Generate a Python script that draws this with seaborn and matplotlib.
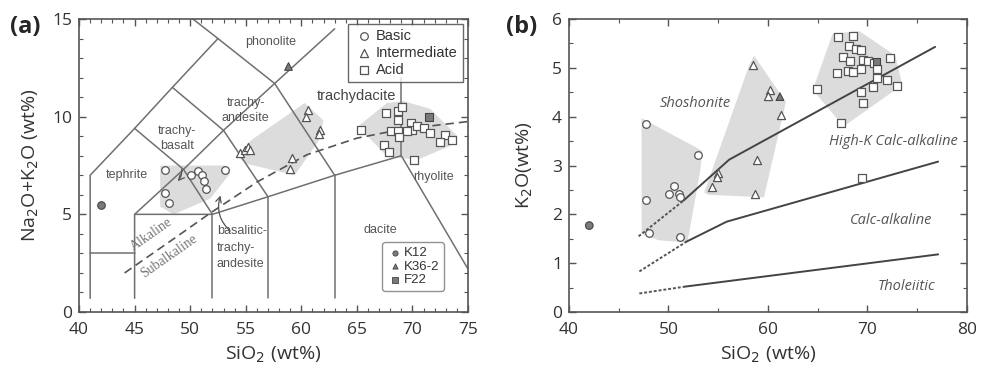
import pandas as pd
import seaborn as sns
import matplotlib.pyplot as plt
from matplotlib.ticker import MultipleLocator

# (a) TAS diagram - sample points
basic_sio2 = [47.75, 50.1, 50.7, 51.1, 51.2, 51.4, 53.15, 47.7, 48.1]
basic_alk = [7.28, 7.0, 7.2, 7.0, 6.7, 6.3, 7.25, 6.1, 5.6]
inter_sio2 = [54.5, 54.9, 55.2, 55.4, 59.2, 59.0, 60.6, 60.45, 61.65, 61.6]
inter_alk = [8.15, 8.3, 8.45, 8.3, 7.9, 7.3, 10.35, 10.0, 9.3, 9.1]
acid_sio2 = [67.6, 68.7, 69.1, 68.7, 65.4, 68.1, 68.7, 68.8, 69.9, 70.0, 70.4, 71.0,
             71.6, 72.9, 73.6, 72.5, 67.4, 67.9, 70.1, 69.5]
acid_alk = [10.2, 10.3, 10.5, 9.85, 9.3, 9.25, 9.25, 8.95, 9.7, 9.3, 9.5, 9.4,
            9.15, 9.05, 8.8, 8.7, 8.55, 8.2, 7.8, 9.25]
k12_a = (42.0, 5.5)
k36_a = (58.8, 12.6)
f22_a = (71.5, 10.0)

# shaded fields (a)
basic_poly_a = [(47.3, 7.5), (53.2, 7.5), (53.6, 7.1), (51.8, 5.8), (48.5, 5.0), (47.3, 5.4)]
inter_poly_a = [(54.2, 8.0), (55.5, 8.8), (60.3, 10.7), (62.0, 9.8), (61.6, 8.8), (59.4, 7.0), (55.0, 7.6)]
acid_poly_a = [(65.1, 9.5), (67.7, 10.7), (69.2, 10.8), (71.6, 10.4), (74.05, 9.0),
               (73.4, 8.5), (70.45, 7.8), (67.75, 7.95)]

# TAS boundaries
tas_lines = [
    [(41, 0.7), (41, 7), (45, 9.4), (48.4, 11.5), (52.5, 14), (50.25, 15)],
    [(41, 3), (45, 3)],
    [(45, 0.7), (45, 5), (52, 5), (57, 5.9), (63, 7), (69, 8), (75, 2.2)],
    [(52, 0.7), (52, 5)],
    [(57, 0.7), (57, 5.9)],
    [(63, 0.7), (63, 7)],
    [(45, 5), (49.4, 7.3), (53, 9.3), (57.6, 11.7), (63, 14.5)],
    [(45, 9.4), (49.4, 7.3), (52, 5)],
    [(48.4, 11.5), (53, 9.3), (57, 5.9)],
    [(52.5, 14), (57.6, 11.7), (63, 7)],
    [(69, 8), (69, 12)],
]
alk_sio2 = [44.1, 48.8, 51.8, 56.0, 60.5, 65.0, 69.0, 75.0]
alk_alk = [2.0, 3.86, 5.06, 6.65, 8.05, 8.9, 9.35, 9.75]

# (b) K2O vs SiO2
basic_b_sio2 = [47.74, 52.93, 50.58, 50.05, 51.06, 51.16, 47.74, 48.04, 51.2]
basic_b_k2o = [3.86, 3.21, 2.58, 2.42, 2.41, 2.35, 2.29, 1.62, 1.54]
inter_b_sio2 = [58.52, 60.2, 60.03, 61.27, 58.86, 54.94, 54.84, 54.4, 58.69]
inter_b_k2o = [5.06, 4.55, 4.42, 4.03, 3.11, 2.85, 2.77, 2.57, 2.42]
acid_b_sio2 = [67.07, 68.58, 68.17, 68.84, 69.35, 67.57, 68.24, 69.58, 70.08, 70.65, 72.26,
               66.9, 68.07, 68.58, 69.35, 70.92, 70.92, 71.93, 72.93, 64.89, 70.52, 69.35,
               69.58, 67.3, 69.48]
acid_b_k2o = [5.63, 5.66, 5.45, 5.38, 5.37, 5.22, 5.13, 5.16, 5.13, 5.1, 5.21,
              4.9, 4.94, 4.92, 4.97, 4.97, 4.79, 4.75, 4.63, 4.56, 4.6, 4.51,
              4.27, 3.88, 2.74]
k12_b = (42.04, 1.77)
k36_b = (61.2, 4.41)
f22_b = (70.92, 5.13)

basic_poly_b = [(47.3, 3.97), (53.4, 3.3), (53.2, 2.9), (51.9, 1.42), (49.0, 1.47), (47.3, 1.6)]
inter_poly_b = [(53.6, 2.45), (58.1, 5.05), (58.6, 5.25), (61.8, 4.3), (59.6, 2.35), (54.0, 2.4)]
acid_poly_b = [(64.5, 4.55), (66.5, 5.7), (69.2, 5.75), (72.8, 5.25), (73.5, 4.65), (67.6, 3.8)]

sho_dot = [(47.0, 1.55), (51.5, 2.28)]
sho_line = [(51.5, 2.28), (56.1, 3.12), (76.8, 5.43)]
hk_dot = [(47.07, 0.83), (51.8, 1.44)]
hk_line = [(51.8, 1.44), (55.85, 1.85), (77.1, 3.08)]
th_dot = [(47.07, 0.38), (51.66, 0.52)]
th_line = [(51.66, 0.52), (77.1, 1.18)]

df_a = pd.DataFrame({
    "SiO2": basic_sio2 + inter_sio2 + acid_sio2,
    "alk": basic_alk + inter_alk + acid_alk,
    "group": ["Basic"] * len(basic_sio2) + ["Intermediate"] * len(inter_sio2) + ["Acid"] * len(acid_sio2),
})
df_b = pd.DataFrame({
    "SiO2": basic_b_sio2 + inter_b_sio2 + acid_b_sio2,
    "K2O": basic_b_k2o + inter_b_k2o + acid_b_k2o,
    "group": ["Basic"] * len(basic_b_sio2) + ["Intermediate"] * len(inter_b_sio2) + ["Acid"] * len(acid_b_sio2),
})
special = pd.DataFrame({
    "name": ["K12", "K36-2", "F22"],
    "xa": [k12_a[0], k36_a[0], f22_a[0]], "ya": [k12_a[1], k36_a[1], f22_a[1]],
    "xb": [k12_b[0], k36_b[0], f22_b[0]], "yb": [k12_b[1], k36_b[1], f22_b[1]],
})
markers = {"Basic": "o", "Intermediate": "^", "Acid": "s", "K12": "o", "K36-2": "^", "F22": "s"}
sizes = {"Basic": 30, "Intermediate": 34, "Acid": 26}

sns.set_style("ticks")
plt.rcParams["font.family"] = ["Open Sans", "DejaVu Sans"]
plt.rcParams["axes.edgecolor"] = "#555555"
plt.rcParams["xtick.color"] = "#555555"
plt.rcParams["ytick.color"] = "#555555"
plt.rcParams["xtick.labelcolor"] = "#333333"
plt.rcParams["ytick.labelcolor"] = "#333333"

fig = plt.figure(figsize=(9.93, 3.65), dpi=100)
ax1 = fig.add_axes([0.0796, 0.1452, 0.3917, 0.8027])
ax2 = fig.add_axes([0.573, 0.1452, 0.4008, 0.8027])

grey = "#dcdcdc"
edge = "#555555"
line_c = "#707070"
arial = ["Liberation Sans", "DejaVu Sans"]

# ---------- (a) ----------
for poly in [basic_poly_a, inter_poly_a, acid_poly_a]:
    xs, ys = zip(*poly)
    ax1.fill(xs, ys, color=grey, lw=0, zorder=1)
for seg in tas_lines:
    xs, ys = zip(*seg)
    ax1.plot(xs, ys, color=line_c, lw=1.1, zorder=2)
ax1.plot(alk_sio2, alk_alk, color="#555555", lw=1.2, ls=(0, (5, 3)), zorder=2)

for g in ["Basic", "Intermediate", "Acid"]:
    sub = df_a[df_a["group"] == g]
    sns.scatterplot(data=sub, x="SiO2", y="alk", marker=markers[g], s=sizes[g], color="white",
                    edgecolor=edge, linewidth=0.9, ax=ax1, zorder=3, label=g)
leg1 = ax1.legend(loc="upper right", frameon=True, fancybox=False,
                  prop={"family": arial, "size": 10.5}, labelcolor="#333333",
                  edgecolor="#444444", handletextpad=0.15, borderaxespad=0.35,
                  labelspacing=0.2, borderpad=0.35, handlelength=1.4)
leg1.get_frame().set_linewidth(1.0)
ax1.add_artist(leg1)

sp_handles = []
for i, row in special.iterrows():
    ax1.scatter(row["xa"], row["ya"], marker=markers[row["name"]], s=30, color="#7a7a7a",
                edgecolor="#444444", linewidth=0.8, zorder=4)
    sp_handles.append(ax1.scatter([], [], marker=markers[row["name"]], s=14, color="#7a7a7a",
                                  edgecolor="#444444", linewidth=0.6, label=row["name"]))
leg2 = ax1.legend(handles=sp_handles, loc="lower right", bbox_to_anchor=(0.955, 0.05),
                  prop={"family": arial, "size": 9.5}, labelcolor="#333333",
                  frameon=True, fancybox=True, edgecolor="#777777",
                  handletextpad=0.0, labelspacing=0.1, borderpad=0.35, handlelength=1.3)

txt = dict(color="#555555", fontsize=9, ha="center", va="center", family=arial)
ax1.text(57.2, 13.8, "phonolite", **txt)
ax1.text(55.0, 10.3, "trachy-\nandesite", linespacing=1.3, **txt)
ax1.text(65.0, 11.05, "trachydacite", color="#444444", fontsize=10.5, ha="center", va="center",
         family=arial)
ax1.text(48.8, 8.9, "trachy-\nbasalt", linespacing=1.3, **txt)
ax1.text(44.3, 7.0, "tephrite", **txt)
ax1.text(71.9, 6.9, "rhyolite", **txt)
ax1.text(67.1, 4.2, "dacite", **txt)
ax1.text(52.4, 3.3, "basalitic-\ntrachy-\nandesite", linespacing=1.5, color="#555555",
         fontsize=9, ha="left", va="center", family=arial)
ax1.text(46.5, 3.95, "Alkaline", rotation=35, color="#777777", fontsize=10, ha="center",
         va="center", family=["Liberation Serif", "DejaVu Serif"])
ax1.text(48.1, 2.85, "Subalkaline", rotation=35, color="#777777", fontsize=10, ha="center",
         va="center", family=["Liberation Serif", "DejaVu Serif"])
ax1.annotate("", xy=(48.7, 6.6), xytext=(49.2, 7.45),
             arrowprops=dict(arrowstyle="->", color="#555555", lw=0.9,
                             connectionstyle="arc3,rad=-0.3"), zorder=4)
ax1.annotate("", xy=(52.8, 6.1), xytext=(53.8, 4.05),
             arrowprops=dict(arrowstyle="->", color="#555555", lw=0.9,
                             connectionstyle="arc3,rad=-0.35"), zorder=4)

ax1.set_xlim(40, 75)
ax1.set_ylim(0, 15)
ax1.xaxis.set_major_locator(MultipleLocator(5))
ax1.xaxis.set_minor_locator(MultipleLocator(1))
ax1.yaxis.set_major_locator(MultipleLocator(5))
ax1.yaxis.set_minor_locator(MultipleLocator(1))
ax1.set_xlabel("SiO$_2$ (wt%)", fontsize=14, color="#333333", labelpad=5)
ax1.set_ylabel("Na$_2$O+K$_2$O (wt%)", fontsize=14, color="#333333", labelpad=8)

# ---------- (b) ----------
for poly in [basic_poly_b, inter_poly_b, acid_poly_b]:
    xs, ys = zip(*poly)
    ax2.fill(xs, ys, color=grey, lw=0, zorder=1)
for seg in [sho_line, hk_line, th_line]:
    xs, ys = zip(*seg)
    ax2.plot(xs, ys, color="#444444", lw=1.4, zorder=2)
for seg in [sho_dot, hk_dot, th_dot]:
    xs, ys = zip(*seg)
    ax2.plot(xs, ys, color="#555555", lw=1.4, ls=(0, (1.5, 1)), zorder=2)

for g in ["Basic", "Intermediate", "Acid"]:
    sub = df_b[df_b["group"] == g]
    sns.scatterplot(data=sub, x="SiO2", y="K2O", marker=markers[g], s=sizes[g], color="white",
                    edgecolor=edge, linewidth=0.9, ax=ax2, zorder=3, legend=False)
sns.scatterplot(data=special, x="xb", y="yb", style="name", markers=markers, s=30,
                color="#7a7a7a", edgecolor="#444444", linewidth=0.8, ax=ax2, zorder=4, legend=False)

lab = dict(color="#555555", fontsize=10.5, style="italic", ha="center", va="center")
ax2.text(52.7, 4.27, "Shoshonite", **lab)
ax2.text(72.6, 3.49, "High-K Calc-alkaline", **lab)
ax2.text(72.4, 1.88, "Calc-alkaline", **lab)
ax2.text(73.9, 0.52, "Tholeiitic", **lab)

ax2.set_xlim(40, 80)
ax2.set_ylim(0, 6)
ax2.xaxis.set_major_locator(MultipleLocator(10))
ax2.xaxis.set_minor_locator(MultipleLocator(5))
ax2.yaxis.set_major_locator(MultipleLocator(1))
ax2.yaxis.set_minor_locator(MultipleLocator(0.5))
ax2.set_xlabel("SiO$_2$ (wt%)", fontsize=14, color="#333333", labelpad=5)
ax2.set_ylabel("K$_2$O(wt%)", fontsize=14, color="#333333", labelpad=12)

for ax in [ax1, ax2]:
    ax.tick_params(which="both", direction="in", top=True, right=True, labelsize=12.5)
    ax.tick_params(axis="x", which="both", pad=7)
    ax.tick_params(axis="y", which="both", pad=5)
    ax.tick_params(which="major", length=5, width=1)
    ax.tick_params(which="minor", length=3, width=0.8)
    for s in ax.spines.values():
        s.set_linewidth(1.2)

fig.text(0.025, 0.925, "(a)", fontsize=17, fontweight="bold", ha="center", va="center")
fig.text(0.525, 0.925, "(b)", fontsize=17, fontweight="bold", ha="center", va="center")

fig.savefig("out.png", dpi=100)
